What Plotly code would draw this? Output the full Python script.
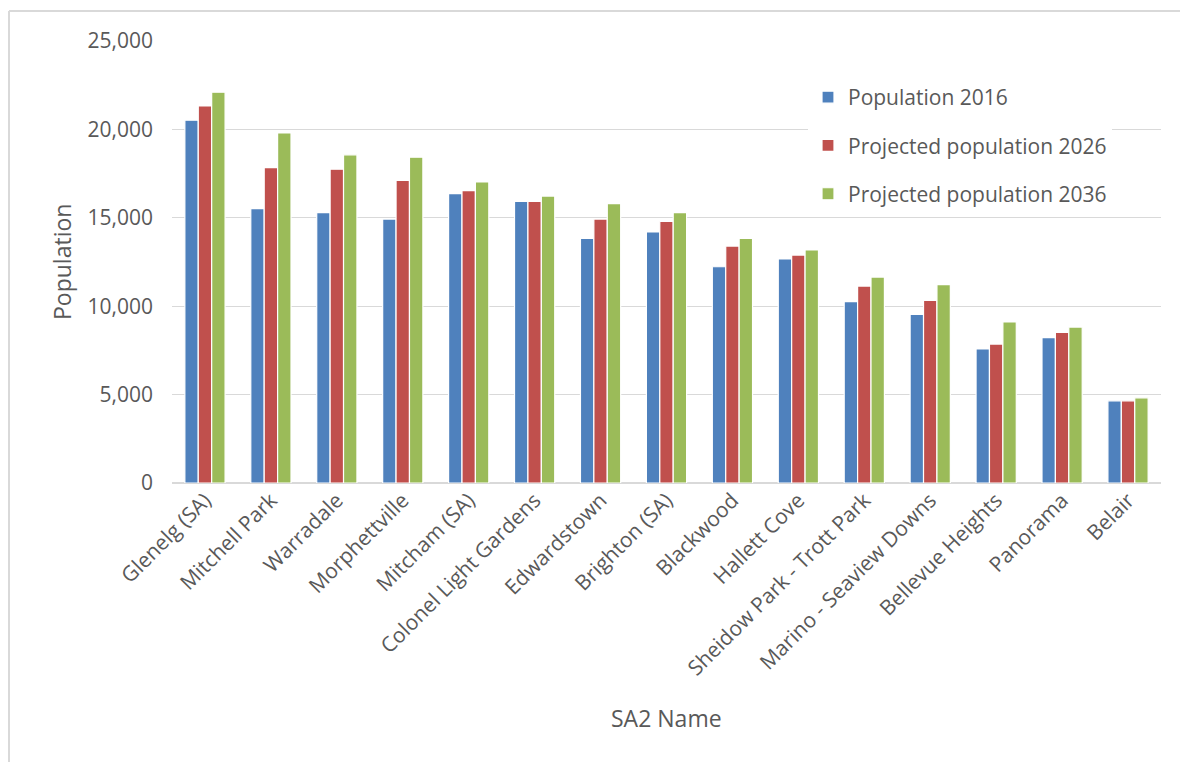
import plotly.graph_objects as go

# SA2 regions and population figures (actual 2016, projected 2026 and 2036)
sa2_names = [
    "Glenelg (SA)", "Mitchell Park", "Warradale", "Morphettville", "Mitcham (SA)",
    "Colonel Light Gardens", "Edwardstown", "Brighton (SA)", "Blackwood", "Hallett Cove",
    "Sheidow Park - Trott Park", "Marino - Seaview Downs", "Bellevue Heights", "Panorama", "Belair",
]
pop_2016 = [20520, 15520, 15290, 14930, 16370, 15930, 13840, 14200, 12230, 12670,
            10260, 9540, 7580, 8220, 4650]
proj_2026 = [21330, 17840, 17750, 17120, 16540, 15930, 14930, 14800, 13400, 12890,
             11140, 10330, 7860, 8520, 4650]
proj_2036 = [22100, 19800, 18560, 18430, 17030, 16230, 15800, 15290, 13840, 13180,
             11650, 11220, 9110, 8820, 4820]

series_names = ["Population 2016", "Projected population 2026", "Projected population 2036"]
series_values = [pop_2016, proj_2026, proj_2036]
series_colors = ["#4F81BD", "#C0504D", "#9BBB59"]

y_ticks = [0, 5000, 10000, 15000, 20000, 25000]

FONT = "Open Sans, Lato, sans-serif"
TEXT = "#595959"
GRID = "#D9D9D9"

fig = go.Figure()
for name, vals, col in zip(series_names, series_values, series_colors):
    fig.add_trace(go.Bar(
        x=sa2_names, y=vals, name=name, legendgroup=name,
        marker=dict(color=col, line=dict(color="white", width=1.2)),
    ))

W, H = 1180, 762
L, R, T, B = 172, 19, 41, 279
pw, ph = W - L - R, H - T - B


def px_x(v):
    return (v - L) / pw


def px_y(v):
    return (H - B - v) / ph


fig.update_layout(
    width=W, height=H,
    margin=dict(l=L, r=R, t=T, b=B, pad=0),
    paper_bgcolor="white", plot_bgcolor="white",
    font=dict(family=FONT, size=21, color=TEXT),
    barmode="group", bargap=0.39, bargroupgap=0.0,
    showlegend=True,
    legend=dict(
        x=px_x(808), y=px_y(77), xanchor="left", yanchor="top",
        bgcolor="white", borderwidth=0,
        font=dict(family=FONT, size=21, color=TEXT),
        tracegroupgap=18, traceorder="grouped",
    ),
    xaxis=dict(
        showgrid=False, showline=False, ticks="", tickangle=-45,
        tickfont=dict(family=FONT, size=21, color=TEXT),
        automargin=False,
    ),
    yaxis=dict(
        range=[0, 25000], tickvals=y_ticks, tickformat=",d",
        showgrid=True, gridcolor=GRID, gridwidth=1.3,
        zeroline=True, zerolinecolor=GRID, zerolinewidth=1.6,
        showline=False, ticks="", ticklabelstandoff=18,
        tickfont=dict(family=FONT, size=21, color=TEXT),
        automargin=False,
    ),
    annotations=[
        dict(text="Population", xref="paper", yref="paper",
             x=px_x(62), y=0.5, textangle=-90, showarrow=False,
             xanchor="center", yanchor="middle",
             font=dict(family=FONT, size=23, color=TEXT)),
        dict(text="SA2 Name", xref="paper", yref="paper",
             x=0.5, y=px_y(718), showarrow=False,
             xanchor="center", yanchor="middle",
             font=dict(family=FONT, size=23, color=TEXT)),
    ],
    shapes=[
        dict(type="line", xref="paper", yref="paper",
             x0=px_x(9), x1=px_x(9), y0=px_y(H + 5), y1=px_y(11),
             line=dict(color=GRID, width=2)),
        dict(type="line", xref="paper", yref="paper",
             x0=px_x(9), x1=px_x(W + 5), y0=px_y(11), y1=px_y(11),
             line=dict(color=GRID, width=2)),
    ],
)

fig.write_html("out.html")
